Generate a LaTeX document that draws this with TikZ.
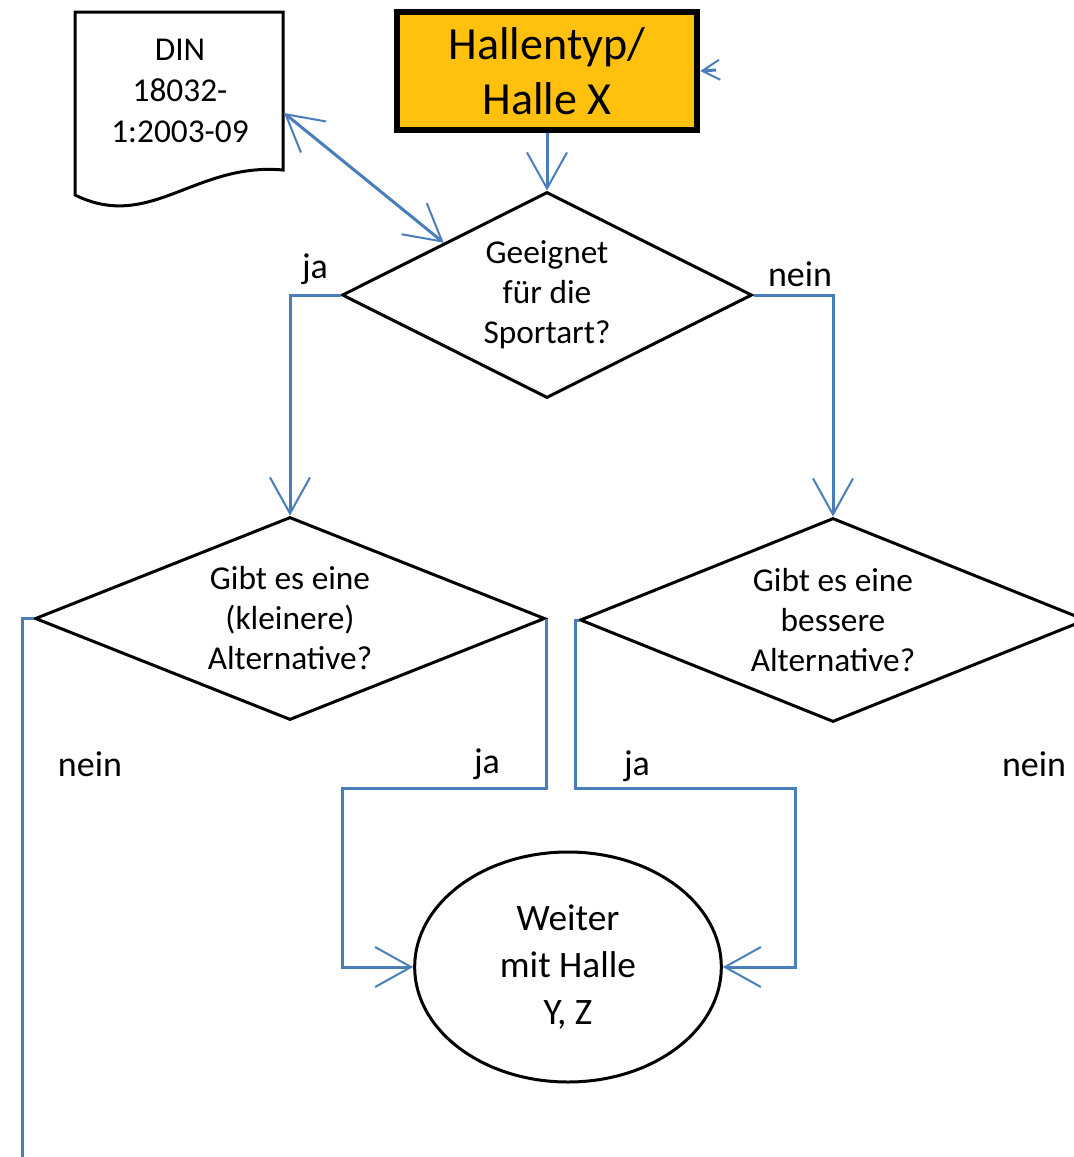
\documentclass[tikz,border=0pt]{standalone}
\usepackage{fontspec}
\setmainfont{Carlito}
\usetikzlibrary{shapes.geometric,arrows.meta}

\begin{document}
\begin{tikzpicture}[x=0.75pt,y=0.75pt,yscale=-1,xscale=1,
  flow/.style={color={rgb, 255:red, 74; green, 126; blue, 187 }, line width=2.25pt},
  vee/.style={-{Straight Barb[length=27pt,width=30pt,line width=1.5pt]}},
  decision/.style={diamond, draw, line width=2.25pt, inner sep=0pt, align=center, font=\fontsize{25}{30}\selectfont},
  lbl/.style={anchor=base, font=\fontsize{27}{32}\selectfont}
]
%set diagram to 1074 x 1157
\useasboundingbox (0,0) rectangle (1074,1157);
\clip (0,0) rectangle (1074,1157);

%Shape: Document [id:din]
\draw [line width=2.25pt] (75,12) -- (283,12) -- (283,170) .. controls (195,162) and (150,232) .. (75,195) -- cycle ;
% Text Node
\node (din) [align=center, font=\fontsize{25}{31}\selectfont] at (180,91) {DIN\\18032-\\1:2003-09};
\coordinate (dinport) at (284,113);

%Shape: Rectangle [id:hall]
\node (hall) [draw, line width=5pt, fill={rgb, 255:red, 255; green, 193; blue, 14 }, minimum width=225pt, minimum height=88.5pt, align=center, font=\fontsize{34.5}{41}\selectfont] at (547,71) {Hallentyp/\\Halle X};
\coordinate (hallin) at (716,70);

%Shape: Diamonds
\node (geeignet) [decision, aspect=2, minimum width=307.5pt, minimum height=154.5pt] at (547,295) {Geeignet\\für die\\Sportart?};
\node (kleiner) [decision, aspect=2.5, minimum width=382.5pt, minimum height=152.25pt] at (290,618.5) {Gibt es eine\\(kleinere)\\Alternative?};
\node (besser) [decision, aspect=2.5, minimum width=379.5pt, minimum height=153pt] at (833,620) {Gibt es eine\\bessere\\Alternative?};

%Shape: Ellipse [id:weiter]
\node (weiter) [ellipse, draw, line width=2.25pt, inner sep=0pt, minimum width=230pt, minimum height=172.5pt, align=center, font=\fontsize{28}{35}\selectfont] at (568,967) {Weiter\\mit Halle\\Y, Z};
\coordinate (ende) at (22,1170);

%Straight Lines
\draw [flow, {Straight Barb[length=27pt,width=30pt,line width=1.5pt]}-{Straight Barb[length=27pt,width=30pt,line width=1.5pt]}] (dinport) -- (geeignet.north west) ;
\draw [flow, -{Straight Barb[length=13pt,width=15pt,line width=1.5pt]}] (hallin) -- (hall.east) ;
\draw [flow, vee] (hall.south) -- (geeignet.north) ;
\draw [flow, vee] (geeignet.west) -| (kleiner.north) ;
\draw [flow, vee] (geeignet.east) -| (besser.north) ;
\draw [flow] (kleiner.west) -| (ende) ;
\draw [flow, vee] (kleiner.east) |- (342,788) |- (weiter.west) ;
\draw [flow, vee] (besser.west) -- ++(-3,0) |- (795,788) |- (weiter.east) ;

% Text Node
\node [lbl] at (315,278) {ja};
\node [lbl] at (800,286) {nein};
\node [lbl] at (90,776) {nein};
\node [lbl] at (487,773) {ja};
\node [lbl] at (637,775) {ja};
\node [lbl] at (1034,776) {nein};

\end{tikzpicture}
\end{document}
